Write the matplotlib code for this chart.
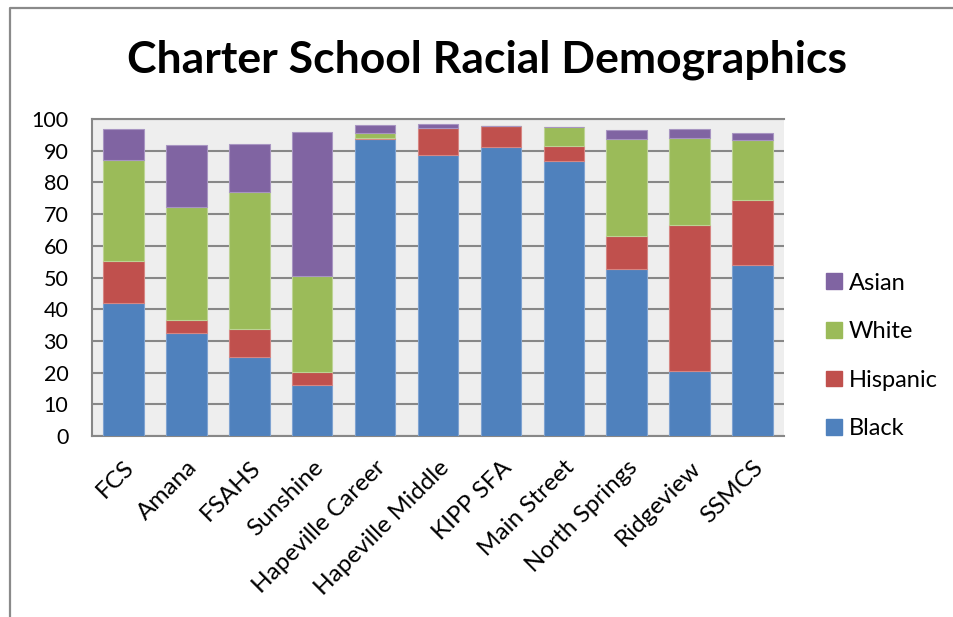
import matplotlib
matplotlib.use("Agg")
import matplotlib.pyplot as plt
import numpy as np
from matplotlib.lines import Line2D
from matplotlib.patches import Patch

schools = ["FCS", "Amana", "FSAHS", "Sunshine", "Hapeville Career", "Hapeville Middle",
           "KIPP SFA", "Main Street", "North Springs", "Ridgeview", "SSMCS"]
black = [41.9, 32.6, 24.9, 16.1, 93.6, 88.5, 91.2, 86.6, 52.7, 20.5, 53.9]
hispanic = [13.3, 4.1, 9.0, 4.0, 0.3, 8.8, 6.7, 4.9, 10.5, 46.1, 20.7]
white = [32.0, 35.4, 43.0, 30.5, 1.6, 0.0, 0.0, 5.9, 30.4, 27.5, 18.8]
asian = [9.5, 19.6, 15.3, 45.4, 2.7, 1.2, 0.0, 0.2, 2.8, 2.9, 2.2]
yticks = list(range(0, 101, 10))

series = [("Black", black, "#4F81BD", "#7FA3D1"),
          ("Hispanic", hispanic, "#C0504D", "#D68683"),
          ("White", white, "#9BBB59", "#BDD394"),
          ("Asian", asian, "#8064A2", "#A895C2")]

plt.rcParams['font.family'] = ['Lato', 'DejaVu Sans']

W, H = 954, 617
fig = plt.figure(figsize=(W / 100, H / 100), dpi=100)
fig.patch.set_facecolor("white")

# outer chart border
fig.add_artist(Line2D([10 / W, 10 / W, 1.0], [0.0, 1 - 8 / H, 1 - 8 / H],
                      transform=fig.transFigure, color="#8A8A8A", lw=1.6))

L, R, T, B = 92, 784, 119, 436
ax = fig.add_axes([L / W, 1 - B / H, (R - L) / W, (B - T) / H])
ax.set_facecolor("#EEEEEE")

x = np.arange(len(schools))
bottom = np.zeros(len(schools))
handles = []
for name, vals, col, ecol in series:
    v = np.array(vals)
    ax.bar(x, v, bottom=bottom, width=0.645, color=col, edgecolor=ecol, linewidth=0.8, zorder=3)
    bottom += v
    handles.append(Patch(facecolor=col, edgecolor=col, label=name))

ax.set_xlim(-0.5, len(schools) - 0.5)
ax.set_ylim(0, 100)
ax.set_yticks(yticks)
ax.set_yticklabels([str(t) for t in yticks], fontsize=15.5)
ax.yaxis.grid(True, color="#878787", lw=1.5, zorder=1)
ax.set_axisbelow(True)
ax.tick_params(axis="y", length=0, pad=17)
ax.tick_params(axis="x", length=0, pad=15)
ax.set_xticks(x)
ax.set_xticklabels(schools, rotation=45, ha="right", va="top", rotation_mode="anchor", fontsize=17.5)
for s in ["left", "bottom", "top"]:
    ax.spines[s].set_color("#878787")
    ax.spines[s].set_linewidth(1.5)
ax.spines["right"].set_visible(False)

fig.text(487 / W, 1 - 60 / H, "Charter School Racial Demographics",
         ha="center", va="center", fontsize=32, fontweight="bold")

leg = fig.legend(handles=handles[::-1], loc="center left", bbox_to_anchor=(805 / W, 1 - 356 / H),
                 frameon=False, fontsize=17, handlelength=0.65, handleheight=0.65,
                 handletextpad=0.3, labelspacing=1.17)

fig.savefig("out.png", dpi=100)
